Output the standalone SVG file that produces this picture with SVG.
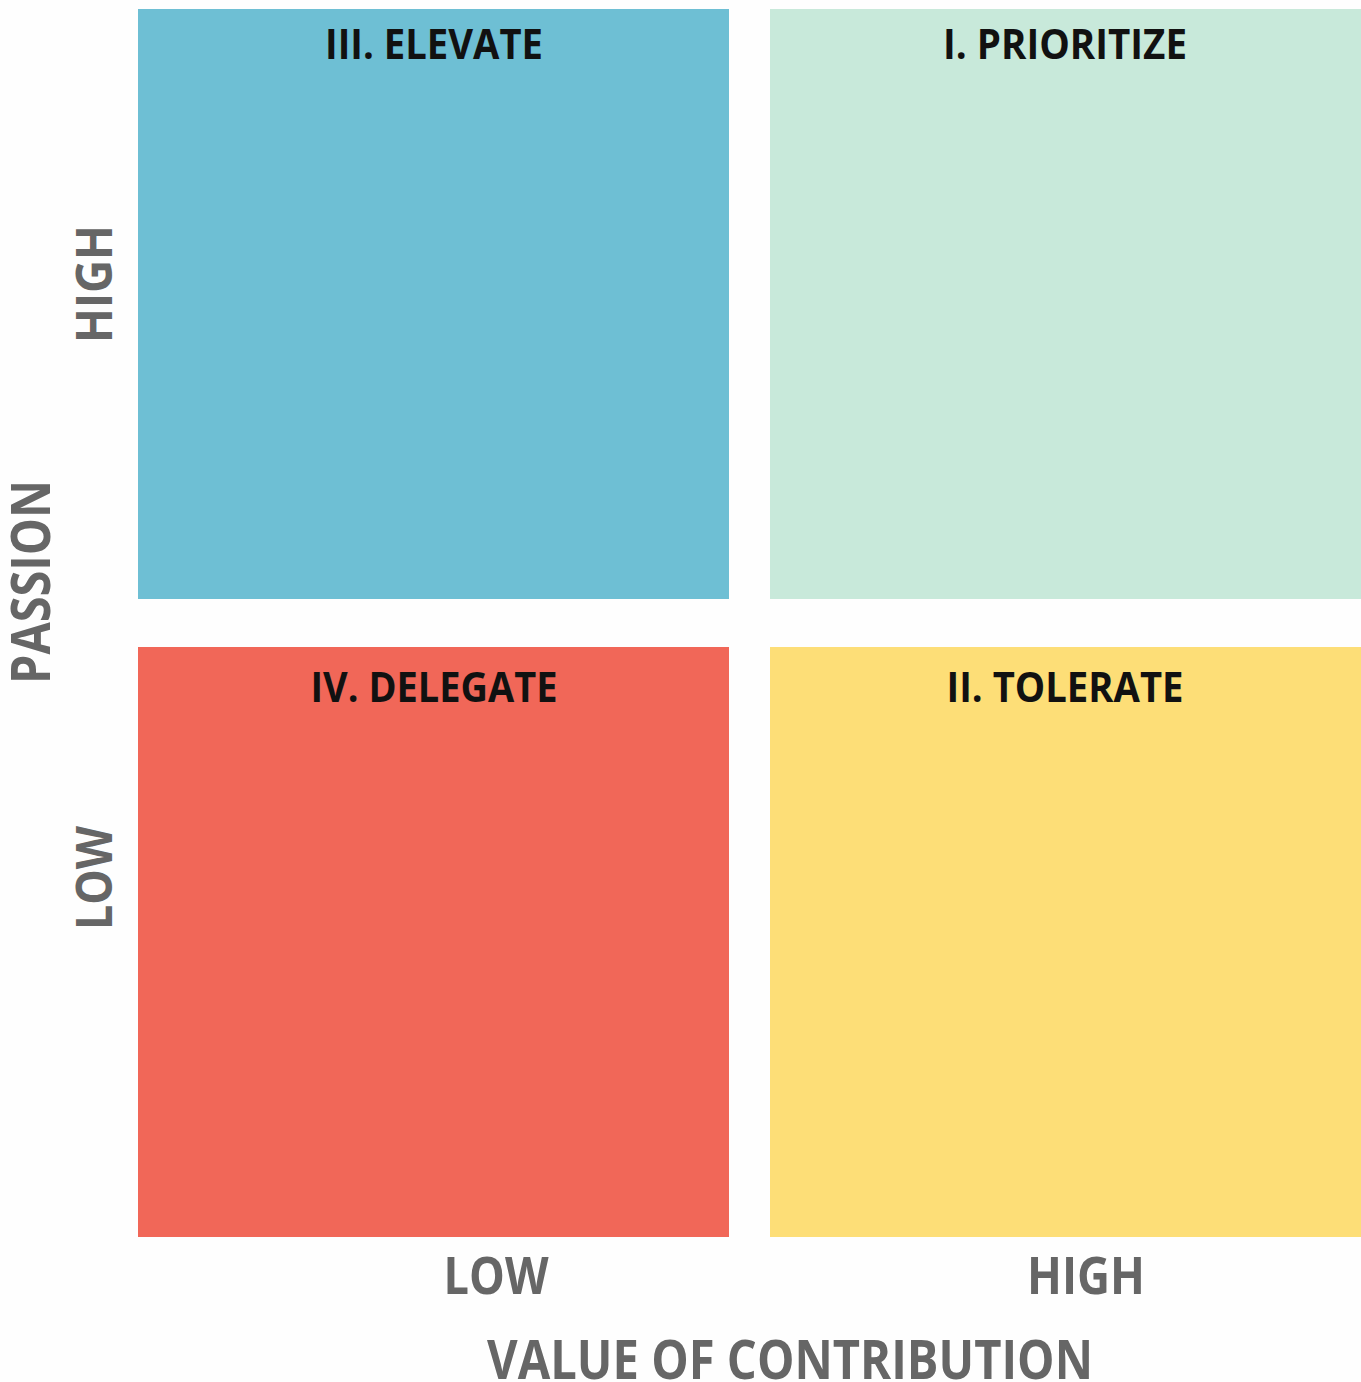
<svg xmlns="http://www.w3.org/2000/svg" width="1361" height="1382" viewBox="0 0 1361 1382">
  <style>
    .title { font-family: "Open Sans", "Liberation Sans", sans-serif; font-weight: 700; font-size: 41px; fill: #111111; text-anchor: middle; }
    .axis { font-family: "Open Sans", "Liberation Sans", sans-serif; font-weight: 700; fill: #666666; text-anchor: middle; }
  </style>
  <rect x="0" y="0" width="1361" height="1382" fill="#fefefe"/>

  <!-- Quadrants -->
  <g id="q3-elevate">
    <rect x="138" y="9" width="591" height="590" fill="#6ebfd4"/>
    <text class="title" x="434" y="59" textLength="218" lengthAdjust="spacingAndGlyphs">III. ELEVATE</text>
  </g>
  <g id="q1-prioritize">
    <rect x="770" y="9" width="591" height="590" fill="#c8e9da"/>
    <text class="title" x="1065" y="59" textLength="244" lengthAdjust="spacingAndGlyphs">I. PRIORITIZE</text>
  </g>
  <g id="q4-delegate">
    <rect x="138" y="647" width="591" height="590" fill="#f16758"/>
    <text class="title" x="434" y="702" textLength="247" lengthAdjust="spacingAndGlyphs">IV. DELEGATE</text>
  </g>
  <g id="q2-tolerate">
    <rect x="770" y="647" width="591" height="590" fill="#fdde77"/>
    <text class="title" x="1065" y="702" textLength="237" lengthAdjust="spacingAndGlyphs">II. TOLERATE</text>
  </g>

  <!-- Horizontal axis -->
  <g id="x-axis">
    <text class="axis" x="496" y="1294" font-size="52" textLength="105" lengthAdjust="spacingAndGlyphs">LOW</text>
    <text class="axis" x="1086" y="1294" font-size="52" textLength="118" lengthAdjust="spacingAndGlyphs">HIGH</text>
    <text class="axis" x="790" y="1379" font-size="54" textLength="606" lengthAdjust="spacingAndGlyphs">VALUE OF CONTRIBUTION</text>
  </g>

  <!-- Vertical axis -->
  <g id="y-axis">
    <text class="axis" transform="translate(112 284) rotate(-90)" x="0" y="0" font-size="50" textLength="118" lengthAdjust="spacingAndGlyphs">HIGH</text>
    <text class="axis" transform="translate(112 878) rotate(-90)" x="0" y="0" font-size="50" textLength="104" lengthAdjust="spacingAndGlyphs">LOW</text>
    <text class="axis" transform="translate(50 582) rotate(-90)" x="0" y="0" font-size="53" textLength="204" lengthAdjust="spacingAndGlyphs">PASSION</text>
  </g>
</svg>
